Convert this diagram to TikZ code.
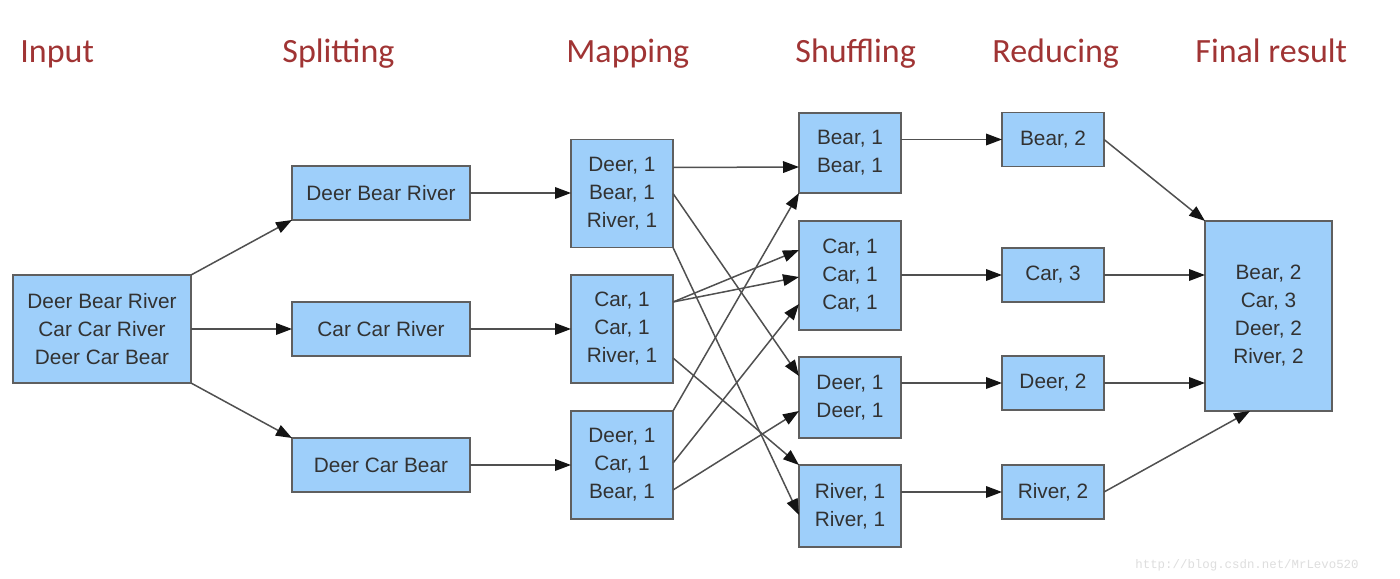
\documentclass[tikz,border=0pt]{standalone}
\usepackage{fontspec}
\setmainfont{Liberation Sans}
\newfontfamily\hdrfont{Carlito}
\newfontfamily\wmfont{Liberation Mono}
\usetikzlibrary{arrows.meta}
\definecolor{boxfill}{RGB}{158,207,250}
\definecolor{boxline}{RGB}{95,95,95}
\definecolor{boxtext}{RGB}{50,50,50}
\definecolor{hdr}{RGB}{160,52,52}
\definecolor{arrline}{RGB}{80,80,80}
\definecolor{tipcol}{RGB}{20,20,20}
\definecolor{wm}{RGB}{222,222,222}
\tikzset{
  box/.style={draw=boxline, line width=0.7pt, fill=boxfill, inner sep=0pt, outer sep=0pt,
    align=center, text=boxtext, font=\fontsize{10.4}{14}\selectfont},
  hdrlabel/.style={anchor=base west, inner sep=0pt, text=hdr, font=\hdrfont\fontsize{17}{20}\selectfont},
  conn/.style={draw=arrline, line width=0.75pt, -{Triangle[length=8pt,width=5.8pt,color=tipcol,fill=tipcol]}}
}
\begin{document}
\begin{tikzpicture}[x=0.5pt,y=-0.5pt]
\useasboundingbox (0,0) rectangle (1400,578);
\fill[white] (0,0) rectangle (1400,578);

% headers
\node[hdrlabel] (hin) at (20,62) {Input};
\node[hdrlabel] (hsp) at (282,62) {Splitting};
\node[hdrlabel] (hma) at (566,62) {Mapping};
\node[hdrlabel] (hsh) at (795,62) {Shuffling};
\node[hdrlabel] (hre) at (992,62) {Reducing};
\node[hdrlabel] (hfi) at (1195,62) {Final result};

% input
\node[box, minimum width=89pt, minimum height=54pt] (in) at (102,329) {Deer Bear River\\Car Car River\\Deer Car Bear};

% splitting
\node[box, minimum width=89pt, minimum height=27pt] (s1) at (381,193) {Deer Bear River};
\node[box, minimum width=89pt, minimum height=27pt] (s2) at (381,329) {Car Car River};
\node[box, minimum width=89pt, minimum height=27pt] (s3) at (381,465) {Deer Car Bear};

% mapping
\node[box, minimum width=51pt, minimum height=54pt] (m1) at (622,193.5) {Deer, 1\\Bear, 1\\River, 1};
\node[box, minimum width=51pt, minimum height=54pt] (m2) at (622,329) {Car, 1\\Car, 1\\River, 1};
\node[box, minimum width=51pt, minimum height=54pt] (m3) at (622,465) {Deer, 1\\Car, 1\\Bear, 1};

% shuffling
\node[box, minimum width=51pt, minimum height=40pt] (sh1) at (850,153) {Bear, 1\\Bear, 1};
\node[box, minimum width=51pt, minimum height=54.5pt] (sh2) at (850,275.5) {Car, 1\\Car, 1\\Car, 1};
\node[box, minimum width=51pt, minimum height=40.5pt] (sh3) at (850,397.5) {Deer, 1\\Deer, 1};
\node[box, minimum width=51pt, minimum height=41pt] (sh4) at (850,506) {River, 1\\River, 1};

% reducing
\node[box, minimum width=51pt, minimum height=27pt] (r1) at (1053,139.5) {Bear, 2};
\node[box, minimum width=51pt, minimum height=27pt] (r2) at (1053,275) {Car, 3};
\node[box, minimum width=51pt, minimum height=27pt] (r3) at (1053,383) {Deer, 2};
\node[box, minimum width=51pt, minimum height=27pt] (r4) at (1053,492) {River, 2};

% final
\node[box, minimum width=63.5pt, minimum height=95pt] (fin) at (1268.5,316) {Bear, 2\\Car, 3\\Deer, 2\\River, 2};

% input -> splitting
\draw[conn] (in.north east) -- (s1.south west);
\draw[conn] (in.east) -- (s2.west);
\draw[conn] (in.south east) -- (s3.north west);

% splitting -> mapping
\draw[conn] (s1.east) -- (s1.east -| m1.west);
\draw[conn] (s2.east) -- (m2.west);
\draw[conn] (s3.east) -- (m3.west);

% mapping -> shuffling
\draw[conn] ([yshift=13pt]m1.east) -- ([yshift=-7pt]sh1.west);
\draw[conn] (m1.east) -- ([yshift=10.75pt]sh3.west);
\draw[conn] (m1.south east) -- ([yshift=-4.5pt]sh4.west);
\draw[conn] ([yshift=13.5pt]m2.east) -- ([yshift=12.75pt]sh2.west);
\draw[conn] ([yshift=13.5pt]m2.east) -- ([yshift=-0.75pt]sh2.west);
\draw[conn] ([yshift=-14.5pt]m2.east) -- (sh4.north west);
\draw[conn] (m3.north east) -- (sh1.south west);
\draw[conn] ([yshift=1pt]m3.east) -- ([yshift=-14.25pt]sh2.west);
\draw[conn] ([yshift=-12.5pt]m3.east) -- ([yshift=-6.75pt]sh3.west);

% shuffling -> reducing
\draw[conn] (sh1.east |- r1.west) -- (r1.west);
\draw[conn] (sh2.east |- r2.west) -- (r2.west);
\draw[conn] (sh3.east |- r3.west) -- (r3.west);
\draw[conn] (sh4.east |- r4.west) -- (r4.west);

% reducing -> final
\draw[conn] (r1.east) -- (fin.north west);
\draw[conn] (r2.east) -- (r2.east -| fin.west);
\draw[conn] (r3.east) -- (r3.east -| fin.west);
\draw[conn] (r4.east) -- ([xshift=-9.25pt]fin.south);

% watermark
\node[anchor=west, inner sep=0pt, text=wm, font=\wmfont\fontsize{6.2}{7}\selectfont] (wmk) at (1135,565) {http://blog.csdn.net/MrLevo520};
\end{tikzpicture}
\end{document}
